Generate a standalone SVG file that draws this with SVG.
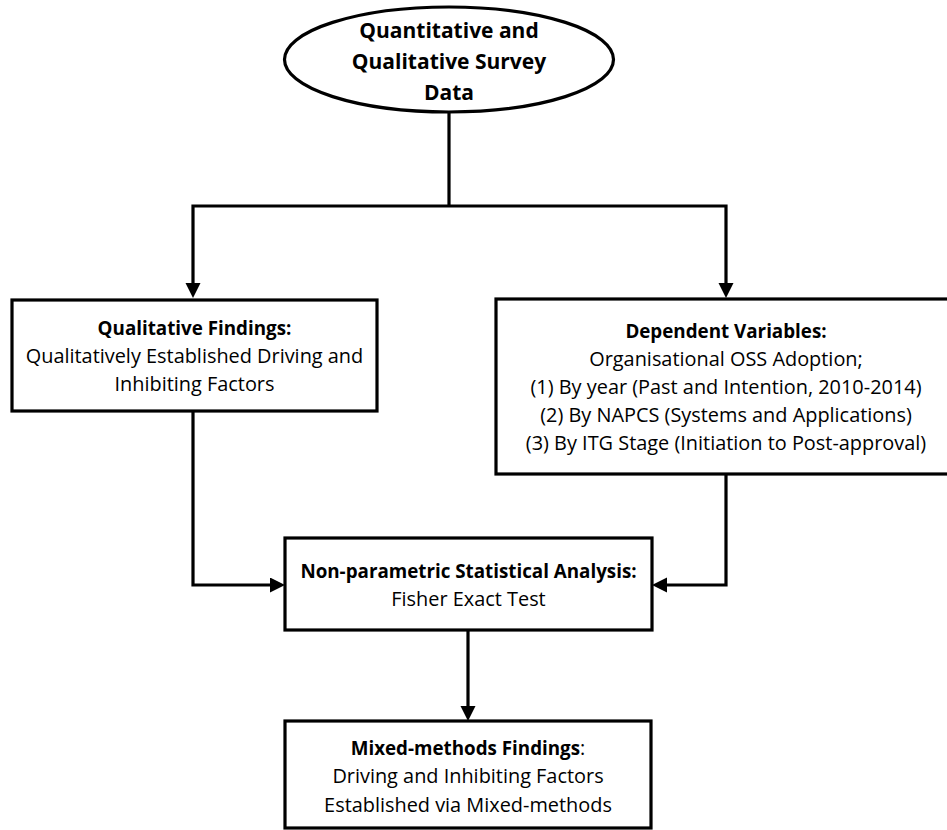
<svg xmlns="http://www.w3.org/2000/svg" width="947" height="830" viewBox="0 0 947 830">
  <style>
    .shape { fill: #ffffff; stroke: #000000; stroke-width: 3.2; }
    .wire { fill: none; stroke: #000000; stroke-width: 3.2; stroke-linejoin: miter; }
    text { font-family: "Open Sans", Lato, sans-serif; font-size: 19.9px; fill: #000000; text-anchor: middle; }
    .b { font-weight: bold; font-size: 18.8px; }
    .title { font-size: 21px; font-weight: bold; }
  </style>
  <defs>
    <marker id="head" markerUnits="userSpaceOnUse" markerWidth="16" markerHeight="16" viewBox="0 0 16 16" refX="5" refY="7.5" orient="auto">
      <path d="M0,0 L15,7.5 L0,15 z" fill="#000000"/>
    </marker>
  </defs>

  <!-- connectors -->
  <g id="connectors">
    <path class="wire" d="M449,112 V206"/>
    <path class="wire" d="M449,206 H193 V288" marker-end="url(#head)"/>
    <path class="wire" d="M449,206 H726 V288" marker-end="url(#head)"/>
    <path class="wire" d="M193,411 V585 H275" marker-end="url(#head)"/>
    <path class="wire" d="M726,474 V585 H662" marker-end="url(#head)"/>
    <path class="wire" d="M468,630 V711" marker-end="url(#head)"/>
  </g>

  <g id="survey-data">
    <ellipse class="shape" cx="449" cy="59.5" rx="164.5" ry="52.5"/>
    <text class="title" x="449" y="38">Quantitative and</text>
    <text class="title" x="449" y="69">Qualitative Survey</text>
    <text class="title" x="449" y="100">Data</text>
  </g>

  <g id="qualitative-findings">
    <rect class="shape" x="12" y="300" width="365" height="111"/>
    <text class="b" x="194.5" y="335">Qualitative Findings:</text>
    <text x="194.5" y="363">Qualitatively Established Driving and</text>
    <text x="194.5" y="391">Inhibiting Factors</text>
  </g>

  <g id="dependent-variables">
    <rect class="shape" x="496" y="299" width="460" height="175"/>
    <text class="b" x="726" y="338">Dependent Variables:</text>
    <text x="726" y="366">Organisational OSS Adoption;</text>
    <text x="726" y="394">(1) By year (Past and Intention, 2010-2014)</text>
    <text x="726" y="422">(2) By NAPCS (Systems and Applications)</text>
    <text x="726" y="450">(3) By ITG Stage (Initiation to Post-approval)</text>
  </g>

  <g id="statistical-analysis">
    <rect class="shape" x="285" y="538" width="367" height="92"/>
    <text class="b" x="468.5" y="578">Non-parametric Statistical Analysis:</text>
    <text x="468.5" y="606">Fisher Exact Test</text>
  </g>

  <g id="mixed-methods-findings">
    <rect class="shape" x="285" y="721" width="366" height="107"/>
    <text x="468" y="755"><tspan class="b">Mixed-methods Findings</tspan>:</text>
    <text x="468" y="783">Driving and Inhibiting Factors</text>
    <text x="468" y="812">Established via Mixed-methods</text>
  </g>
</svg>
